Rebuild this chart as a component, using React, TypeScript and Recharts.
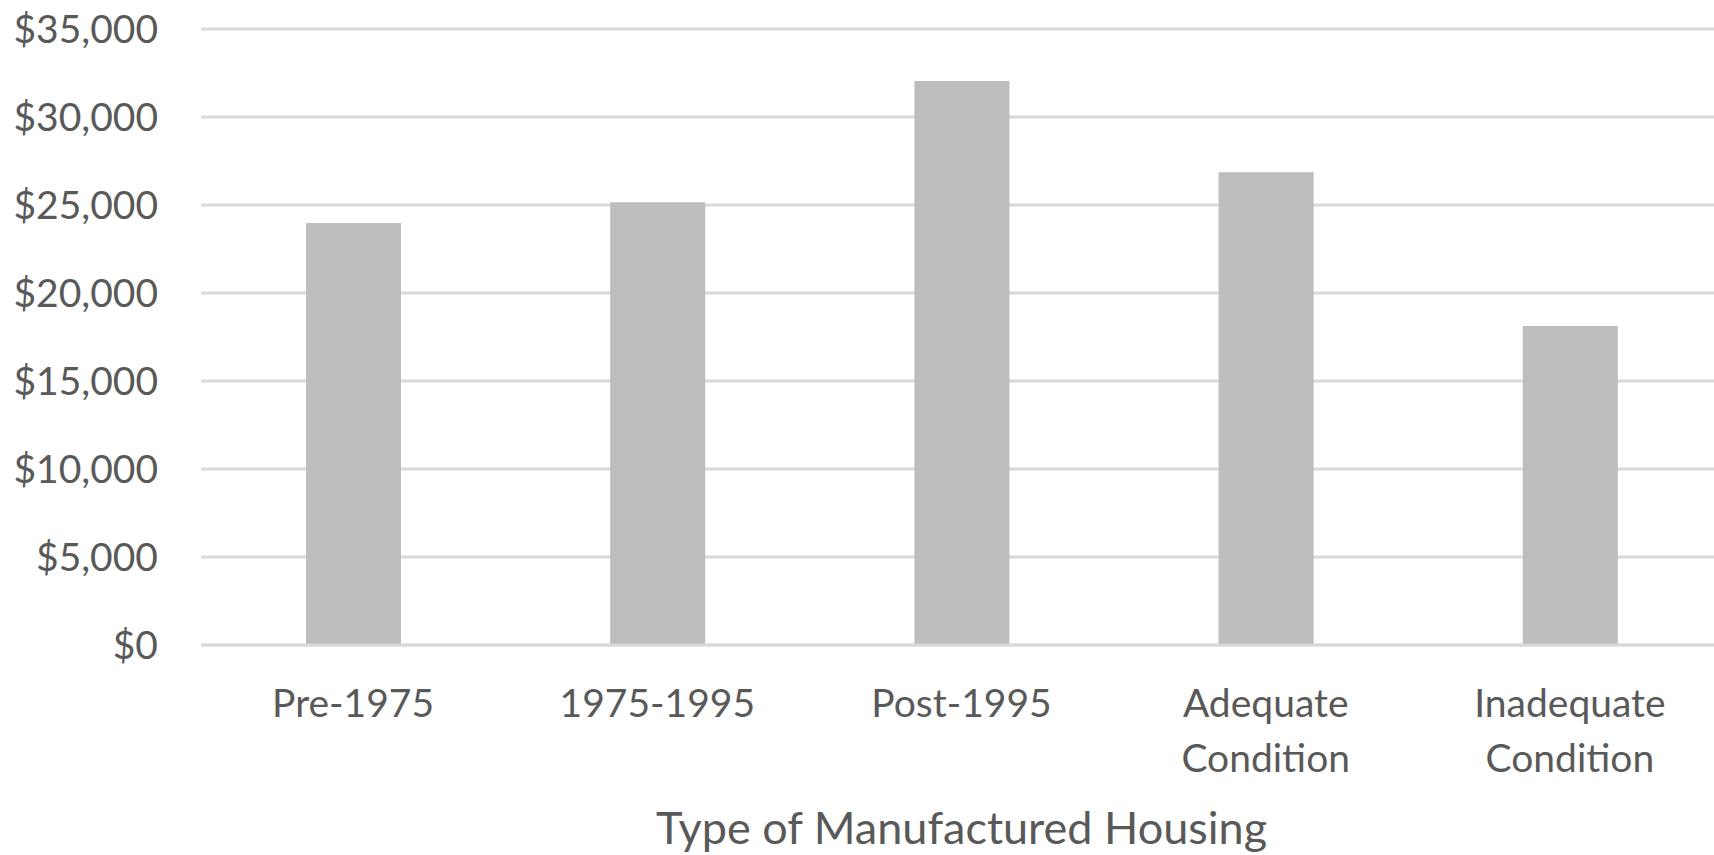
import React from 'react';
import { BarChart, Bar, XAxis, YAxis, CartesianGrid } from 'recharts';

const categories = ['Pre-1975', '1975-1995', 'Post-1995', 'Adequate\nCondition', 'Inadequate\nCondition'];
const values = [23980, 25150, 32050, 26860, 18130];
const yTicks = [0, 5000, 10000, 15000, 20000, 25000, 30000, 35000];
const xAxisTitle = 'Type of Manufactured Housing';

const data = categories.map((c, i) => ({ name: c, value: values[i] }));

const FONT = 'Lato, "Open Sans", sans-serif';
const TEXT = '#595959';

const XTick = (props: any) => {
  const { x, y, payload } = props;
  const lines = String(payload.value).split('\n');
  return (
    <text x={x} y={y} textAnchor="middle" fill={TEXT} fontSize={39} fontFamily={FONT}>
      {lines.map((l, i) => (
        <tspan key={i} x={x} y={y + 72 + i * 54.5}>{l}</tspan>
      ))}
    </text>
  );
};

export default function App() {
  return (
    <div style={{ position: 'absolute', left: 0, top: 0, width: 1714, height: 855, overflow: 'hidden', background: '#fff' }}>
      <BarChart
        width={1722}
        height={855}
        data={data}
        margin={{ top: 29, right: 0, bottom: 0, left: 0 }}
        barSize={95}
      >
        <CartesianGrid vertical={false} stroke="#d9d9d9" strokeWidth={3} />
        <XAxis
          dataKey="name"
          height={210}
          tickSize={0}
          tickMargin={0}
          tickLine={false}
          axisLine={{ stroke: '#d9d9d9', strokeWidth: 3 }}
          tick={<XTick />}
          interval={0}
          label={{ value: xAxisTitle, position: 'insideBottom', offset: 11, fill: TEXT, fontSize: 45, fontFamily: FONT }}
        />
        <YAxis
          width={201}
          domain={[0, 35000]}
          ticks={yTicks}
          interval={0}
          tickSize={0}
          tickMargin={43}
          tickLine={false}
          axisLine={false}
          tick={{ fill: TEXT, fontSize: 39, fontFamily: FONT }}
          tickFormatter={(v: number) => `$${v.toLocaleString('en-US')}`}
        />
        <Bar dataKey="value" fill="#bcbdbf" isAnimationActive={false} />
      </BarChart>
    </div>
  );
}
